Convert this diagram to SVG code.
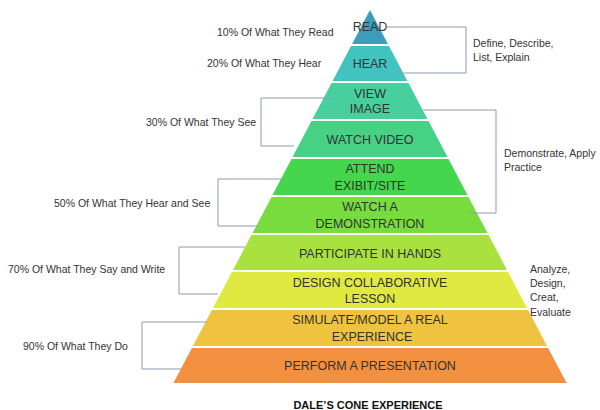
<svg xmlns="http://www.w3.org/2000/svg" width="600" height="410" viewBox="0 0 600 410">
<style>
.lbl{font-family:"Liberation Sans",Arial,sans-serif;font-size:12.5px;fill:#333333;text-anchor:middle}
.side{font-family:"Liberation Sans",Arial,sans-serif;font-size:10.5px;fill:#333333}
.title{font-family:"Liberation Sans",Arial,sans-serif;font-size:11px;font-weight:bold;fill:#111111;text-anchor:middle}
.br{fill:none;stroke:#8a9bb3;stroke-width:1}
</style>
<rect width="600" height="410" fill="#ffffff"/>
<g id="read"><polygon points="370,10 387.9,44 352.1,44" fill="#3e9bb9"/><text class="lbl" x="370" y="31">READ</text></g>
<g id="hear"><polygon points="351,46 389,46 407.4,81 332.6,81" fill="#41c3c0"/><text class="lbl" x="370" y="68">HEAR</text></g>
<g id="view"><polygon points="331.5,83 408.5,83 427.4,119 312.6,119" fill="#47cf9d"/><text class="lbl" x="370" y="98">VIEW</text><text class="lbl" x="370" y="113">IMAGE</text></g>
<g id="video"><polygon points="311.5,121 428.5,121 447.5,157 292.5,157" fill="#46d184"/><text class="lbl" x="370" y="144">WATCH VIDEO</text></g>
<g id="attend"><polygon points="291.5,159 448.5,159 467.5,195 272.5,195" fill="#46d64d"/><text class="lbl" x="370" y="173">ATTEND</text><text class="lbl" x="370" y="190">EXIBIT/SITE</text></g>
<g id="demo"><polygon points="271.5,197 468.5,197 487.5,233 252.5,233" fill="#78db3e"/><text class="lbl" x="370" y="211">WATCH A</text><text class="lbl" x="370" y="228">DEMONSTRATION</text></g>
<g id="participate"><polygon points="251.4,235 488.6,235 507,270 233,270" fill="#a9e23f"/><text class="lbl" x="370" y="258">PARTICIPATE  IN HANDS</text></g>
<g id="design"><polygon points="231.9,272 508.1,272 527,308 213,308" fill="#dfe940"/><text class="lbl" x="370" y="287">DESIGN COLLABORATIVE</text><text class="lbl" x="370" y="303">LESSON</text></g>
<g id="simulate"><polygon points="211.9,310 528.1,310 547.1,346 192.9,346" fill="#efc23f"/><text class="lbl" x="370" y="324">SIMULATE/MODEL  A REAL</text><text class="lbl" x="372" y="341">EXPERIENCE</text></g>
<g id="perform"><polygon points="191.9,348 548.1,348 566.6,383 173.4,383" fill="#f2903f"/><text class="lbl" x="370" y="370">PERFORM A PRESENTATION</text></g>
<g id="connectors">
<polyline class="br" points="385,27 466,27 466,73 398,73"/>
<polyline class="br" points="331,98 261,98 261,146 294,146"/>
<polyline class="br" points="423,110 496,110 496,213 470,213"/>
<polyline class="br" points="284,179 218,179 218,226 258,226"/>
<polyline class="br" points="245,247 179,247 179,294 218,294"/>
<polyline class="br" points="207,322 142,322 142,369 181,369"/>
</g>
<g id="left-labels">
<text class="side" x="217" y="36">10% Of What They Read</text>
<text class="side" x="207" y="67">20% Of What They Hear</text>
<text class="side" x="146" y="126">30% Of What They See</text>
<text class="side" x="54" y="207">50% Of What They Hear and See</text>
<text class="side" x="8" y="273">70% Of What They Say and Write</text>
<text class="side" x="23" y="350">90% Of What They Do</text>
</g>
<g id="right-labels">
<text class="side" x="473" y="47">Define, Describe,</text>
<text class="side" x="473" y="61">List, Explain</text>
<text class="side" x="504" y="157">Demonstrate, Apply</text>
<text class="side" x="504" y="171">Practice</text>
<text class="side" x="530" y="273">Analyze,</text>
<text class="side" x="530" y="287">Design,</text>
<text class="side" x="530" y="301">Creat,</text>
<text class="side" x="530" y="316">Evaluate</text>
</g>
<text class="title" x="368" y="409">DALE’S CONE EXPERIENCE</text>
</svg>
